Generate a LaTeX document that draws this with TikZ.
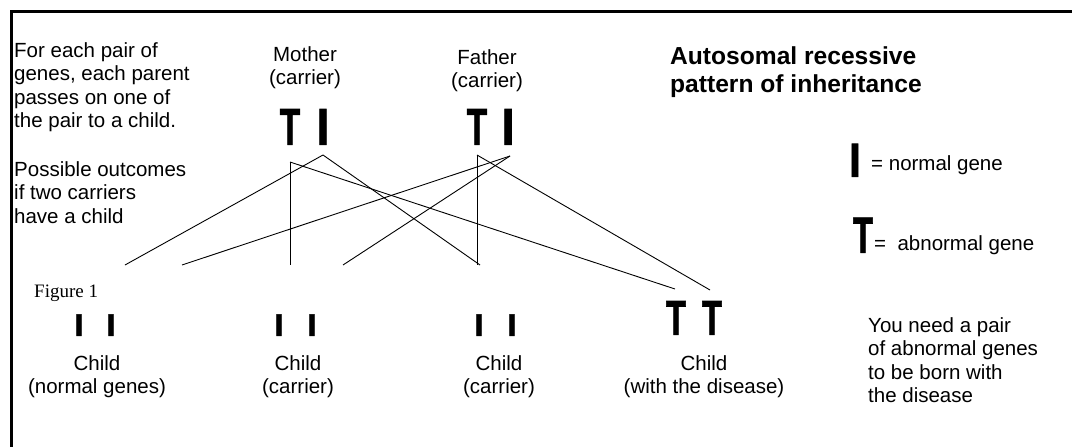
\documentclass[tikz,border=0pt]{standalone}
\usepackage{fontspec}
\setmainfont{Liberation Sans}
\newfontfamily\figfont{Liberation Serif}
\newfontfamily\genefont{Liberation Sans}[BoldFeatures={FakeBold=1.6}]
\usepackage{graphicx}

% a heavy gene letter of a given size, squeezed or widened horizontally
\newcommand\genechar[3]{\scalebox{#2}[1]{\fontsize{#1}{#1}\genefont\bfseries #3}}

\begin{document}
\begin{tikzpicture}[x=1pt,y=-1pt,
  txt/.style={inner sep=0pt, font=\fontsize{20.5}{23.5}\selectfont, align=left},
  ctr/.style={inner sep=0pt, font=\fontsize{20.5}{23.5}\selectfont, align=center},
  gene/.style={inner sep=0pt, anchor=south},
  link/.style={line width=0.9pt},
  frame/.style={line width=3pt, line join=miter},
]
\useasboundingbox (0,0) rectangle (1072,447);

% frame on the left and top
\coordinate (fbl) at (11,447);
\coordinate (ftl) at (11,11);
\coordinate (ftr) at (1072,11);
\draw[frame] (fbl) -- (ftl) -- (ftr);

% explanatory text
\node[txt, anchor=north west] (rule) at (14,42)
  {For each pair of\\genes, each parent\\passes on one of\\the pair to a child.};
\node[txt, anchor=north west] (outcomes) at (14,161)
  {Possible outcomes\\if two carriers\\have a child};
\node[inner sep=0pt, anchor=north west, align=left,
      font=\fontsize{24.6}{28}\selectfont\bfseries] (title) at (670,46)
  {Autosomal recessive\\pattern of inheritance};

% parents
\node[ctr, anchor=north] (mother) at (305,46) {Mother\\(carrier)};
\node[ctr, anchor=north] (father) at (487,49) {Father\\(carrier)};
\node[gene] (mT) at (290,145) {\genechar{52}{0.64}{T}};
\node[gene] (mI) at (323,145) {\genechar{52}{0.9}{I}};
\node[gene] (fT) at (477,145) {\genechar{52}{0.64}{T}};
\node[gene] (fI) at (508,145) {\genechar{52}{0.9}{I}};

% children
\node[gene] (c1a) at (79,336) {\genechar{31}{1.1}{I}};
\node[gene] (c1b) at (111,336) {\genechar{31}{1.1}{I}};
\node[gene] (c2a) at (279,336) {\genechar{31}{1.1}{I}};
\node[gene] (c2b) at (312,336) {\genechar{31}{1.1}{I}};
\node[gene] (c3a) at (479,336) {\genechar{31}{1.1}{I}};
\node[gene] (c3b) at (512,336) {\genechar{31}{1.1}{I}};
\node[gene] (c4a) at (676,335) {\genechar{49}{0.66}{T}};
\node[gene] (c4b) at (712,335) {\genechar{49}{0.66}{T}};

\node[ctr, anchor=north] (lab1) at (97,355) {Child\\(normal genes)};
\node[ctr, anchor=north] (lab2) at (298,355) {Child\\(carrier)};
\node[ctr, anchor=north] (lab3) at (499,355) {Child\\(carrier)};
\node[ctr, anchor=north] (lab4) at (704,355) {Child\\(with the disease)};

\node[inner sep=0pt, anchor=base west, font=\figfont\fontsize{19}{22}\selectfont]
  (fig) at (34,297) {Figure 1};

% key
\node[gene] (keyI) at (855,177) {\genechar{48}{0.9}{I}};
\node[txt, anchor=base west] (keyItext) at (871,170) {= normal gene};
\node[gene] (keyT) at (863,253) {\genechar{51}{0.64}{T}};
\node[txt, anchor=base west] (keyTtext) at (874,250) {=~~abnormal gene};

\node[txt, anchor=north west] (need) at (868,317)
  {You need a pair\\of abnormal genes\\to be born with\\the disease};

% where each inherited gene leaves a parent
\coordinate (mTo) at (290,162);
\coordinate (mIo) at (323,155);
\coordinate (fTo) at (477,155);
\coordinate (fIo) at (510,156);
% where it arrives above a child
\coordinate (c1m) at (125,265);
\coordinate (c1f) at (182,265);
\coordinate (c2m) at (290,265);
\coordinate (c2f) at (343,265);
\coordinate (c3m) at (480,265);
\coordinate (c3f) at (477,265);
\coordinate (c4m) at (675,289);
\coordinate (c4f) at (710,290);

\draw[link] (mIo) -- (c1m);
\draw[link] (fIo) -- (c1f);
\draw[link] (mTo) -- (c2m);
\draw[link] (fIo) -- (c2f);
\draw[link] (mIo) -- (c3m);
\draw[link] (fTo) -- (c3f);
\draw[link] (mTo) -- (c4m);
\draw[link] (fTo) -- (c4f);
\end{tikzpicture}
\end{document}
